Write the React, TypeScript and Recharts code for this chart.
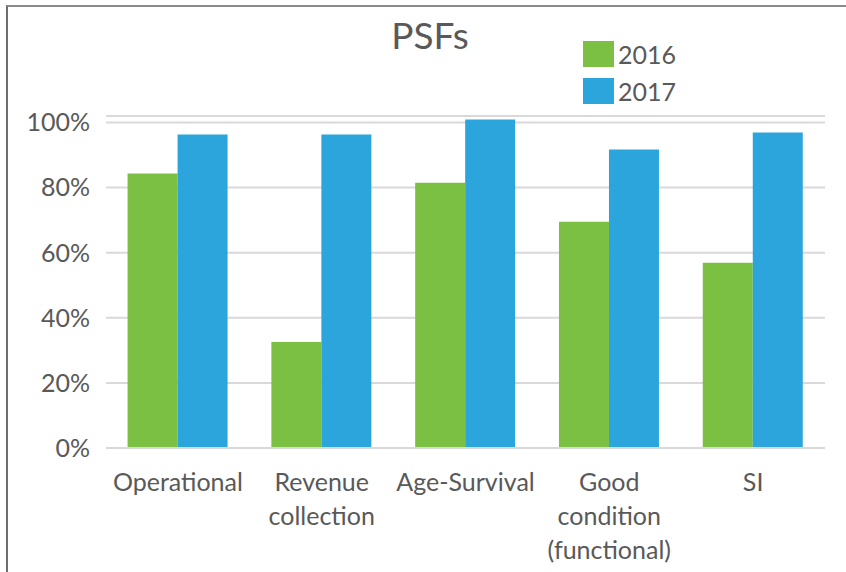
import { BarChart, Bar, XAxis, YAxis, CartesianGrid } from "recharts";

// categories (\n marks the line breaks of the axis labels)
const categories = [
    "Operational",
    "Revenue\ncollection",
    "Age-Survival",
    "Good\ncondition\n(functional)",
    "SI",
];

// series values
const values2016 = [0.843, 0.326, 0.815, 0.695, 0.569];
const values2017 = [0.963, 0.963, 1.009, 0.917, 0.969];

const yTicks = [0, 0.2, 0.4, 0.6, 0.8, 1];
const seriesNames = ["2016", "2017"];
const seriesColors = ["#7BC043", "#2CA5DC"];

const data = categories.map((name, i) => ({
    name,
    y2016: values2016[i],
    y2017: values2017[i],
}));

const FONT = "Lato, 'Open Sans', sans-serif";
const TEXT = "#595959";

function CategoryTick(props: any) {
    const { x, y, payload } = props;
    const lines = String(payload.value).split("\n");
    return (
        <g transform={`translate(${x},${y})`}>
            {lines.map((line, i) => (
                <text
                    key={i}
                    x={0}
                    y={35 + i * 34}
                    textAnchor="middle"
                    fill={TEXT}
                    fontSize={25}
                    fontFamily={FONT}
                >
                    {line}
                </text>
            ))}
        </g>
    );
}

export default function App() {
    return (
        <div
            style={{
                position: "absolute",
                left: 0,
                top: 0,
                width: 846,
                height: 572,
                background: "#fff",
                fontFamily: FONT,
            }}
        >
            {/* chart frame (only top and left edges are visible) */}
            <div
                style={{
                    position: "absolute",
                    left: 6,
                    top: 5,
                    width: 840,
                    height: 567,
                    borderTop: "2px solid #8a8a8a",
                    borderLeft: "2px solid #6e6e6e",
                }}
            />

            <div
                style={{
                    position: "absolute",
                    left: 0,
                    top: 12,
                    width: 860,
                    textAlign: "center",
                    fontSize: 37,
                    color: TEXT,
                }}
            >
                PSFs
            </div>

            {/* legend */}
            <div style={{ position: "absolute", left: 583, top: 41 }}>
                {seriesNames.map((name, i) => (
                    <div
                        key={name}
                        style={{ display: "flex", alignItems: "center", height: 26, marginBottom: 11 }}
                    >
                        <div style={{ width: 31, height: 26, background: seriesColors[i] }} />
                        <span style={{ marginLeft: 4, fontSize: 25, color: TEXT }}>{name}</span>
                    </div>
                ))}
            </div>

            <div style={{ position: "absolute", left: 0, top: 0 }}>
                <BarChart
                    width={846}
                    height={572}
                    data={data}
                    margin={{ top: 116, right: 21, bottom: 0, left: 0 }}
                    barCategoryGap="15%"
                    barGap={0}
                >
                    <CartesianGrid vertical={false} stroke="#d9d9d9" strokeWidth={2} />
                    <XAxis
                        dataKey="name"
                        axisLine={{ stroke: "#d9d9d9", strokeWidth: 2 }}
                        tickLine={false}
                        height={124}
                        interval={0}
                        tick={<CategoryTick />}
                    />
                    <YAxis
                        width={106}
                        domain={[0, 1.02]}
                        ticks={yTicks}
                        axisLine={false}
                        tickLine={false}
                        tickMargin={10}
                        tickFormatter={(v: number) => `${Math.round(v * 100)}%`}
                        tick={{ fill: TEXT, fontSize: 25, fontFamily: FONT }}
                    />
                    <Bar dataKey="y2016" name={seriesNames[0]} fill={seriesColors[0]} isAnimationActive={false} />
                    <Bar dataKey="y2017" name={seriesNames[1]} fill={seriesColors[1]} isAnimationActive={false} />
                </BarChart>
            </div>
        </div>
    );
}
